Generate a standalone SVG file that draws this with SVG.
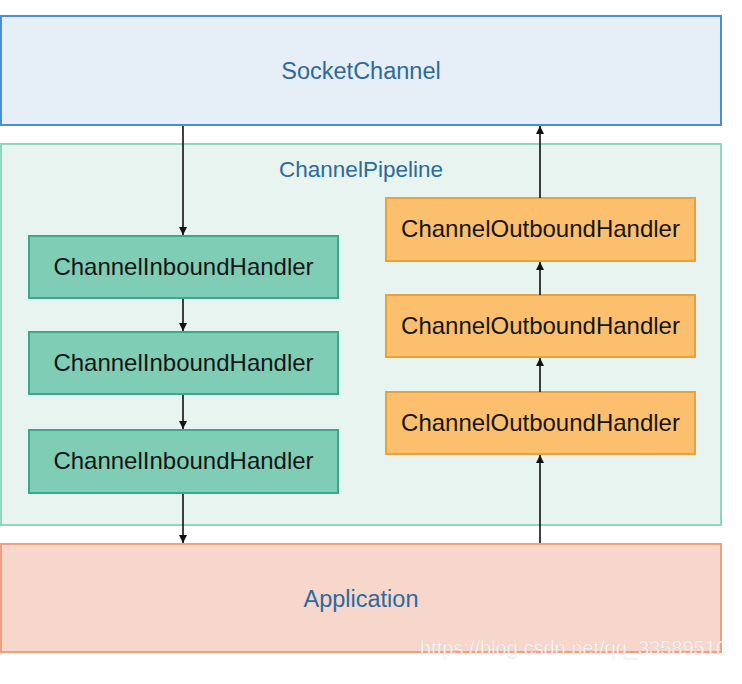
<svg xmlns="http://www.w3.org/2000/svg" width="742" height="684" viewBox="0 0 742 684">
<defs>
<marker id="ah" viewBox="0 0 10 10" refX="10" refY="5" markerWidth="8" markerHeight="8" markerUnits="userSpaceOnUse" orient="auto">
<path d="M0,0 L10,5 L0,10 z" fill="#111"/>
</marker>
<style>
.blue{font-family:"Liberation Sans",Arial,sans-serif;fill:#2d6a9b;text-anchor:middle}
.hd{font-family:"Liberation Sans",Arial,sans-serif;font-size:24px;fill:#151515;text-anchor:middle}
.in{fill:#7fcdb5;stroke:#3aa88a;stroke-width:2}
.out{fill:#fbbf6e;stroke:#e8a23a;stroke-width:2}
.conn line{stroke:#111;stroke-width:1.6;marker-end:url(#ah)}
</style>
</defs>
<rect width="742" height="684" fill="#fff"/>
<g id="socketchannel">
<rect x="1" y="16" width="720" height="109" fill="#e6eef8" stroke="#4a90d0" stroke-width="2"/>
<text class="blue" x="361" y="79" font-size="23.5">SocketChannel</text>
</g>
<g id="pipeline">
<rect x="1" y="144" width="720" height="381" fill="#e8f4f0" stroke="#93d6c0" stroke-width="2"/>
<text class="blue" x="361" y="177" font-size="22.5">ChannelPipeline</text>
</g>
<g id="in1"><rect class="in" x="29" y="236" width="309" height="62"/><text class="hd" x="183.5" y="275">ChannelInboundHandler</text></g>
<g id="in2"><rect class="in" x="29" y="332" width="309" height="62"/><text class="hd" x="183.5" y="371">ChannelInboundHandler</text></g>
<g id="in3"><rect class="in" x="29" y="430" width="309" height="63"/><text class="hd" x="183.5" y="469">ChannelInboundHandler</text></g>
<g id="out1"><rect class="out" x="386" y="198" width="309" height="63"/><text class="hd" x="540.5" y="237">ChannelOutboundHandler</text></g>
<g id="out2"><rect class="out" x="386" y="295" width="309" height="62"/><text class="hd" x="540.5" y="334">ChannelOutboundHandler</text></g>
<g id="out3"><rect class="out" x="386" y="392" width="309" height="62"/><text class="hd" x="540.5" y="431">ChannelOutboundHandler</text></g>
<g id="application">
<rect x="1" y="544" width="720" height="108" fill="#f7d6cc" stroke="#f0a080" stroke-width="2"/>
<text class="blue" x="361" y="607" font-size="23.5">Application</text>
</g>
<g class="conn" id="connectors">
<line x1="183" y1="126" x2="183" y2="235"/>
<line x1="183" y1="299" x2="183" y2="331"/>
<line x1="183" y1="395" x2="183" y2="429"/>
<line x1="183" y1="494" x2="183" y2="543"/>
<line x1="540" y1="543" x2="540" y2="455"/>
<line x1="540" y1="392" x2="540" y2="358"/>
<line x1="540" y1="295" x2="540" y2="262"/>
<line x1="540" y1="198" x2="540" y2="126"/>
</g>
<text x="420" y="655" font-family="'Liberation Sans',Arial,sans-serif" font-size="20" fill="#ffffff" fill-opacity="0.8" stroke="#bbbbbb" stroke-opacity="0.35" stroke-width="0.6">https://blog.csdn.net/qq_33589510</text>
</svg>
